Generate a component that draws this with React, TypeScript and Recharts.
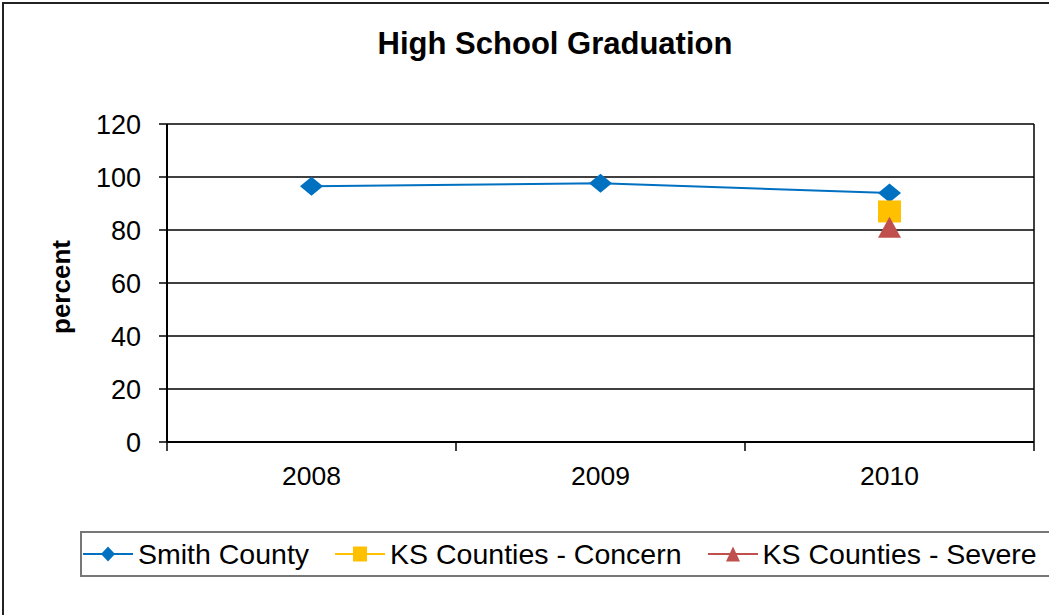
import { CartesianGrid, Legend, Line, LineChart, XAxis, YAxis } from "recharts";

const years = ["2008", "2009", "2010"];
const smithCounty = [96.5, 97.6, 94.0];
const ksConcern = [null, null, 87.0];
const ksSevere = [null, null, 81.0];
const yTicks = [0, 20, 40, 60, 80, 100, 120];

const FONT = '"Liberation Sans", Arial, sans-serif';

const series = [
  { key: "smith", name: "Smith County", color: "#0070C0", shape: "diamond" },
  { key: "concern", name: "KS Counties - Concern", color: "#FFC000", shape: "square" },
  { key: "severe", name: "KS Counties - Severe", color: "#C0504D", shape: "triangle" },
];

const data = years.map((year, i) => ({
  x: i + 0.5,
  year,
  smith: smithCounty[i],
  concern: ksConcern[i],
  severe: ksSevere[i],
}));

function markerPath(shape: string, cx: number, cy: number, w: number, h: number) {
  const hw = w / 2;
  const hh = h / 2;
  if (shape === "diamond")
    return `M${cx},${cy - hh}L${cx + hw},${cy}L${cx},${cy + hh}L${cx - hw},${cy}Z`;
  if (shape === "square")
    return `M${cx - hw},${cy - hh}h${w}v${h}h${-w}Z`;
  return `M${cx},${cy - hh}L${cx + hw},${cy + hh}L${cx - hw},${cy + hh}Z`;
}

const markerSize: Record<string, [number, number]> = {
  diamond: [23, 19],
  square: [23, 22],
  triangle: [23, 21],
};

function makeDot(shape: string, color: string) {
  return (props: any) => {
    const { cx, cy, index, dataKey } = props;
    const k = `${dataKey}-${index}`;
    if (cx == null || cy == null || props.value == null) return <g key={k} />;
    const [w, h] = markerSize[shape];
    return <path key={k} d={markerPath(shape, cx, cy, w, h)} fill={color} stroke="none" />;
  };
}

function LegendBox() {
  return (
    <div
      style={{
        boxSizing: "border-box",
        width: "100%",
        height: "100%",
        border: "2px solid #777",
        display: "flex",
        alignItems: "center",
        gap: 26,
        paddingLeft: 1,
        fontFamily: FONT,
        fontSize: 28.5,
        color: "#000",
        whiteSpace: "nowrap",
        background: "#fff",
      }}
    >
      {series.map((s) => (
        <div key={s.key} style={{ display: "flex", alignItems: "center" }}>
          <svg width={50} height={20} style={{ marginRight: 5 }}>
            <line x1={0} y1={10} x2={50} y2={10} stroke={s.color} strokeWidth={2} />
            <path d={markerPath(s.shape, 25, 10, 14, 15)} fill={s.color} />
          </svg>
          <span>{s.name}</span>
        </div>
      ))}
    </div>
  );
}

export default function App() {
  return (
    <div
      style={{
        position: "fixed",
        left: 0,
        top: 0,
        width: 1049,
        height: 615,
        overflow: "hidden",
        background: "#fff",
      }}
    >
      <div
        style={{
          position: "absolute",
          left: 2,
          top: 2,
          width: 1100,
          height: 700,
          border: "2px solid #222",
        }}
      />
      <div
        style={{
          position: "absolute",
          left: 0,
          top: 28,
          width: 1110,
          textAlign: "center",
          fontFamily: FONT,
          fontWeight: "bold",
          fontSize: 31,
          lineHeight: "31px",
          color: "#000",
        }}
      >
        High School Graduation
      </div>
      <div style={{ position: "absolute", left: 0, top: 0 }}>
        <LineChart
          width={1049}
          height={615}
          data={data}
          margin={{ top: 124, right: 15, bottom: 132, left: 0 }}
          style={{ fontFamily: FONT }}
        >
          <CartesianGrid
            xAxisId="frame"
            stroke="#000"
            strokeWidth={1.5}
            verticalPoints={[1034]}
          />
          <XAxis
            xAxisId="frame"
            type="number"
            dataKey="x"
            domain={[0, 3]}
            ticks={[0, 1, 2, 3]}
            tickFormatter={() => ""}
            tickSize={9}
            height={1}
            axisLine={{ stroke: "#000", strokeWidth: 2 }}
            tickLine={{ stroke: "#000", strokeWidth: 1.5 }}
          />
          <XAxis
            xAxisId="labels"
            type="number"
            dataKey="x"
            domain={[0, 3]}
            ticks={[0.5, 1.5, 2.5]}
            tickFormatter={(v: number) => years[Math.floor(v)]}
            axisLine={false}
            tickLine={false}
            tickSize={0}
            tickMargin={23}
            height={40}
            tick={{ fontSize: 26.5, fill: "#000" }}
          />
          <YAxis
            type="number"
            domain={[0, 120]}
            ticks={yTicks}
            interval={0}
            width={167}
            tickSize={8}
            tickMargin={18}
            axisLine={{ stroke: "#000", strokeWidth: 2 }}
            tickLine={{ stroke: "#000", strokeWidth: 1.5 }}
            tick={{ fontSize: 27, fill: "#000" }}
            label={{
              content: ({ viewBox }: any) => {
                const cx = 61;
                const cy = viewBox.y + viewBox.height / 2 + 4;
                return (
                  <text
                    x={cx}
                    y={cy}
                    transform={`rotate(-90 ${cx} ${cy})`}
                    textAnchor="middle"
                    dominantBaseline="central"
                    fontSize={26}
                    fontWeight="bold"
                    fill="#000"
                    fontFamily={FONT}
                  >
                    percent
                  </text>
                );
              },
            }}
          />
          {series.map((s) => (
            <Line
              key={s.key}
              xAxisId="labels"
              dataKey={s.key}
              name={s.name}
              stroke={s.color}
              strokeWidth={2}
              dot={makeDot(s.shape, s.color)}
              activeDot={false}
              connectNulls={false}
              isAnimationActive={false}
            />
          ))}
          <Legend
            verticalAlign="middle"
            align="center"
            layout="horizontal"
            wrapperStyle={{ left: 80, top: 531, width: 1000, height: 46 }}
            content={() => <LegendBox />}
          />
        </LineChart>
      </div>
    </div>
  );
}
